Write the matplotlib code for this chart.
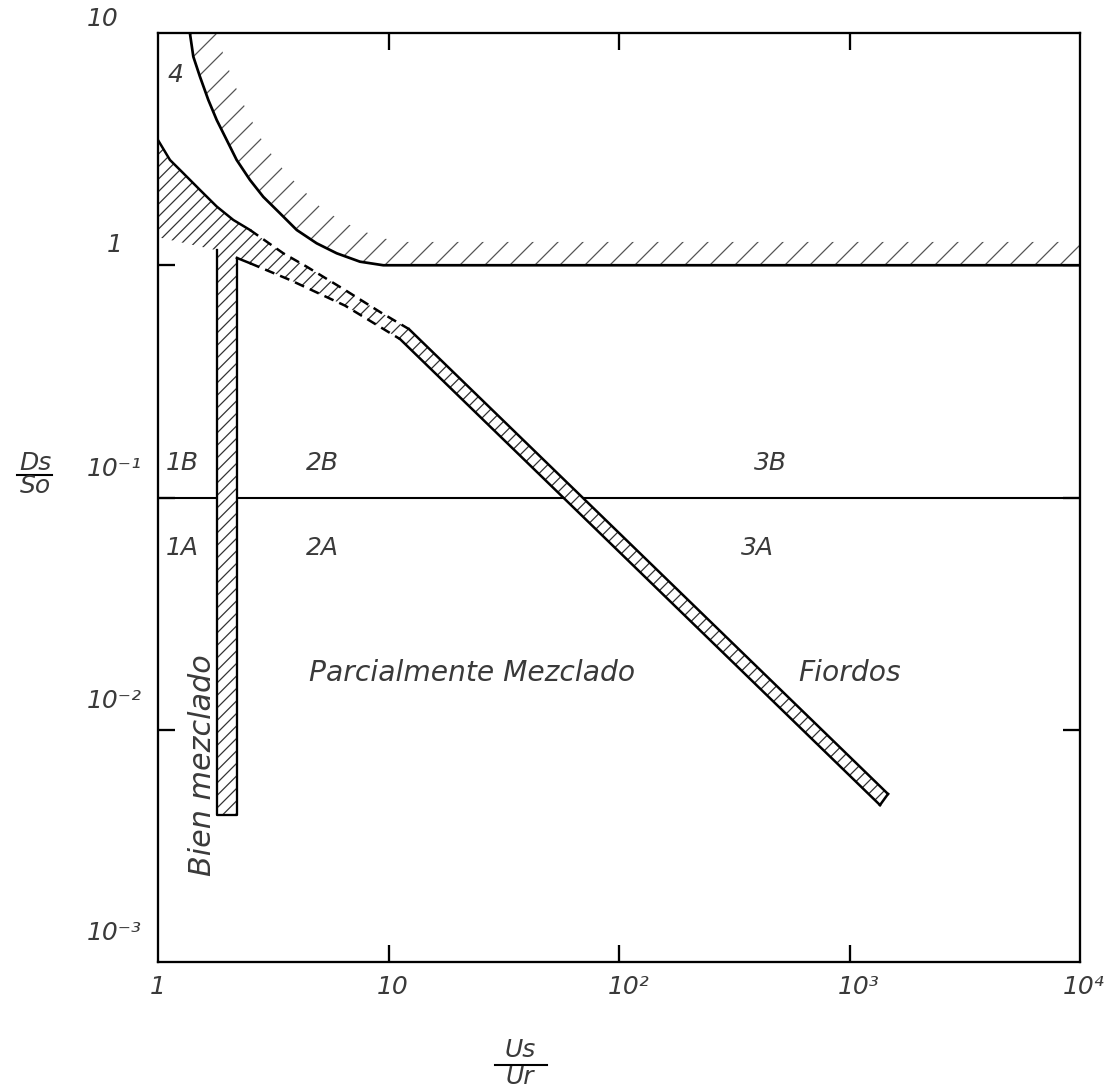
import matplotlib as mpl
mpl.use('Agg')
import matplotlib.pyplot as plt
from matplotlib.patches import Polygon
from matplotlib.lines import Line2D
import numpy as np

# boundary of region 4 (solid curve, hatched on the upper side)
upper_x = [1.375, 1.423, 1.521, 1.653, 1.798, 1.987, 2.194, 2.506, 2.863, 3.382,
           4.00, 4.88, 5.96, 7.52, 9.49, 1e4]
upper_y = [10.0, 7.91, 6.48, 5.15, 4.22, 3.46, 2.84, 2.33, 1.97, 1.674,
           1.418, 1.243, 1.126, 1.036, 1.0, 1.0]

# top edge of the well-mixed block, continued by the 2/3 band
band_top_x = [1.0, 1.127, 1.288, 1.521, 1.798, 2.122, 2.506, 2.962, 3.496, 4.416,
              6.48, 9.19, 12.27, 1469]
band_top_y = [3.46, 2.84, 2.49, 2.11, 1.79, 1.567, 1.419, 1.263, 1.126, 0.986,
              0.782, 0.629, 0.531, 0.00529]
# lower edge of the band
band_low_x = [2.20, 2.51, 3.74, 6.48, 11.22, 1356]
band_low_y = [1.075, 1.02, 0.864, 0.67, 0.481, 0.00474]

# vertical bar (well mixed / partially mixed)
bar_x = [1.80, 2.20]
bar_bottom = 0.0043
block_bottom_x = [1.0, 1.80]
block_bottom_y = [1.32, 1.16]

# stratification line Ds/So = 0.1
strat_level = 0.1

x_ticks = [1, 10, 100, 1000, 10000]
x_tick_labels = ['1', '10', '10²', '10³', '10⁴']
y_ticks = [10, 1, 0.1, 0.01, 0.001]
y_tick_labels = ['10', '1', '10⁻¹', '10⁻²', '10⁻³']

region_labels = ['4', '1B', '2B', '3B', '1A', '2A', '3A']
region_x = [1.185, 1.27, 5.15, 452, 1.27, 5.15, 397]
region_y = [6.59, 0.141, 0.141, 0.141, 0.0607, 0.0607, 0.0607]

zone_names = ['Parcialmente Mezclado', 'Fiordos']
zone_x = [23.0, 1005]
zone_y = [0.01754, 0.01754]

font = dict(family='DejaVu Sans', style='italic', color='#3a3a3a')

fig = plt.figure(figsize=(1113 / 150, 1088 / 150), dpi=150, facecolor='white')
ax = fig.add_axes([158 / 1113, 126 / 1088, 922 / 1113, 929 / 1088])
ax.set_xscale('log')
ax.set_yscale('log')
ax.set_xlim(1, 1e4)
ax.set_ylim(1e-3, 10)
mpl.rcParams['hatch.linewidth'] = 0.6

# horizontal line at 10^-1
ax.axhline(strat_level, color='k', lw=1.0, zorder=1)

# hatched band above the region-4 boundary
ux = np.array(upper_x)
uy = np.array(upper_y)
outer = np.column_stack([ux[::-1] * 1.26, uy[::-1] * 1.26])
poly_up = np.vstack([np.column_stack([ux, uy]), outer])
ax.add_patch(Polygon(poly_up, closed=True, facecolor='white', edgecolor='#555555',
                     lw=0, hatch='//', zorder=2))
ax.plot(upper_x, upper_y, color='k', lw=1.3, zorder=4)

# hatched block + bar + band
verts = list(zip(band_top_x, band_top_y))
verts += list(zip(band_low_x[::-1], band_low_y[::-1]))
verts += [(bar_x[1], bar_bottom), (bar_x[0], bar_bottom)]
verts += list(zip(block_bottom_x[::-1], block_bottom_y[::-1]))
ax.add_patch(Polygon(verts, closed=True, facecolor='white', edgecolor='#333333',
                     lw=0, hatch='////', zorder=2))

dash = (0, (4, 2.5))
ax.plot(band_top_x[:7], band_top_y[:7], color='k', lw=1.2, zorder=4)
ax.plot(band_top_x[6:13], band_top_y[6:13], color='k', lw=1.2, ls=dash, zorder=4)
ax.plot(band_top_x[12:], band_top_y[12:], color='k', lw=1.2, zorder=4)
ax.plot(band_low_x[:2], band_low_y[:2], color='k', lw=1.2, zorder=4)
ax.plot(band_low_x[1:5], band_low_y[1:5], color='k', lw=1.2, ls=dash, zorder=4)
ax.plot(band_low_x[4:], band_low_y[4:], color='k', lw=1.2, zorder=4)
ax.plot([band_top_x[-1], band_low_x[-1]], [band_top_y[-1], band_low_y[-1]],
        color='k', lw=1.2, zorder=4)
ax.plot([bar_x[0], bar_x[0], bar_x[1], bar_x[1]],
        [block_bottom_y[-1], bar_bottom, bar_bottom, band_low_y[0]],
        color='k', lw=1.1, zorder=4)

# frame and ticks
for sp in ax.spines.values():
    sp.set_linewidth(1.1)
    sp.set_zorder(5)
ax.set_xticks([10, 100, 1000])
ax.set_yticks([0.01, 0.1, 1])
ax.minorticks_off()
ax.tick_params(direction='in', length=8, width=1.1, top=True, right=True,
               labelbottom=False, labelleft=False)

for xv, lab in zip(x_ticks, x_tick_labels):
    if lab == '1':
        ax.annotate(lab, (xv, 0), xycoords=('data', 'axes fraction'),
                    xytext=(0, -6), textcoords='offset points',
                    ha='center', va='top', fontsize=12, **font)
    else:
        dx = -8.5 if lab == '10⁴' else -5.5
        ax.annotate(lab, (xv, 0), xycoords=('data', 'axes fraction'),
                    xytext=(dx, -6), textcoords='offset points',
                    ha='left', va='top', fontsize=12, **font)
for yv, lab in zip(y_ticks, y_tick_labels):
    if lab == '1':
        ax.annotate(lab, (0, yv), xycoords=('axes fraction', 'data'),
                    xytext=(-21, 4), textcoords='offset points',
                    ha='center', va='bottom', fontsize=12, **font)
    elif lab == '10':
        ax.annotate(lab, (0, yv), xycoords=('axes fraction', 'data'),
                    xytext=(-34, 1), textcoords='offset points',
                    ha='left', va='bottom', fontsize=12, **font)
    else:
        ax.annotate(lab, (0, yv), xycoords=('axes fraction', 'data'),
                    xytext=(-34, 8), textcoords='offset points',
                    ha='left', va='bottom', fontsize=12, **font)

for lab, xv, yv in zip(region_labels, region_x, region_y):
    ax.text(xv, yv, lab, ha='center', va='center', fontsize=12, **font)
for lab, xv, yv in zip(zone_names, zone_x, zone_y):
    ax.text(xv, yv, lab, ha='center', va='center', fontsize=13.5, **font)
ax.text(1.567, 0.00705, 'Bien mezclado', rotation=90, ha='center', va='center',
        fontsize=14.5, **font)

# axis labels as fractions
fig.text(35 / 1113, 1 - 463 / 1088, 'Ds', ha='center', va='center', fontsize=12, **font)
fig.text(35 / 1113, 1 - 486 / 1088, 'So', ha='center', va='center', fontsize=12, **font)
fig.add_artist(Line2D([17 / 1113, 52 / 1113], [1 - 475 / 1088, 1 - 475 / 1088],
                      color='k', lw=1.0))
fig.text(520 / 1113, 1 - 1050 / 1088, 'Us', ha='center', va='center', fontsize=12, **font)
fig.text(520 / 1113, 1 - 1077 / 1088, 'Ur', ha='center', va='center', fontsize=12, **font)
fig.add_artist(Line2D([495 / 1113, 547 / 1113], [1 - 1065 / 1088, 1 - 1065 / 1088],
                      color='k', lw=1.0))

fig.savefig('out.png', dpi=150, facecolor='white')
